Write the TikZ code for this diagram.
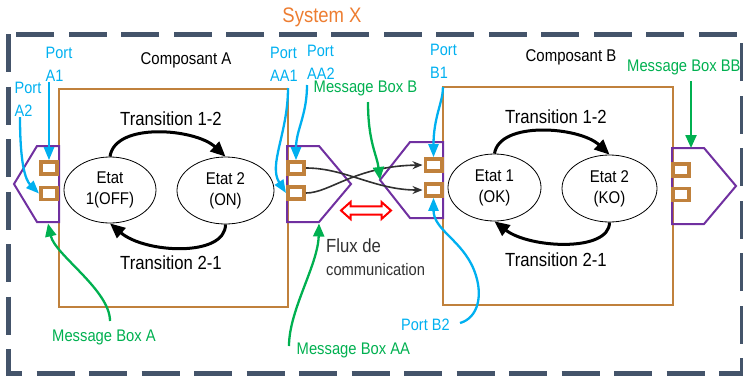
\documentclass[tikz,border=0pt]{standalone}
\usepackage{fontspec}
\setmainfont{Liberation Sans}[FakeStretch=0.88]
\usetikzlibrary{shapes.geometric,arrows.meta}
\definecolor{framec}{HTML}{44546A}
\definecolor{orangec}{HTML}{ED7D31}
\definecolor{brownc}{HTML}{C0813C}
\definecolor{purp}{HTML}{7030A0}
\definecolor{bluec}{HTML}{00B0F0}
\definecolor{greenc}{HTML}{00B050}
\definecolor{darkc}{HTML}{303030}
\begin{document}
\begin{tikzpicture}[x=1pt,y=-1pt,
  frame/.style={draw=framec, line width=5pt, dash pattern=on 38pt off 14.5pt},
  comp/.style={draw=brownc, line width=2pt, inner sep=0},
  clab/.style={font=\fontsize{17}{20}\selectfont, inner sep=0},
  hex/.style={draw=purp, line width=2pt, line join=miter},
  port/.style={draw=brownc, line width=3.6pt, fill=white, minimum width=16.4pt, minimum height=12pt, inner sep=0},
  state/.style={ellipse, draw=black, line width=0.8pt, align=center, font=\fontsize{17}{21}\selectfont, inner sep=0},
  trans/.style={line width=3pt, -{Triangle[length=15pt,width=13pt]}},
  tlab/.style={font=\fontsize{19}{22}\selectfont, inner sep=0},
  link/.style={draw=darkc, line width=1.6pt, shorten >=1pt, -{Stealth[length=10pt,width=8pt]}},
  blab/.style={text=bluec, font=\fontsize{16.5}{23}\selectfont, align=left, inner sep=0, anchor=west},
  glab/.style={text=greenc, font=\fontsize{16.8}{20}\selectfont, inner sep=0, anchor=west},
  barrow/.style={draw=bluec, line width=2.3pt, -{Triangle[length=13pt,width=10pt]}},
  garrow/.style={draw=greenc, line width=2.3pt, -{Triangle[length=13pt,width=11pt]}},
  flux/.style={text=darkc, inner sep=0, anchor=west}]
\useasboundingbox (0,0) rectangle (743,378);
\draw[frame] (8,34) rectangle (742,373);
\node[font=\fontsize{21}{24}\selectfont, text=orangec, inner sep=0] (title) at (322,17) {System X};

% components
\node[comp, minimum width=229pt, minimum height=218pt] (compA) at (173.5,198) {};
\node[comp, minimum width=230pt, minimum height=218pt] (compB) at (558,196) {};
\node[clab] (nameA) at (186,60) {Composant A};
\node[clab] (nameB) at (571,57) {Composant B};

% message boxes (purple)
\coordinate (hAb) at (48,223.5);
\coordinate (hAAc) at (319,223.5);
\coordinate (hBl) at (380,180);
\coordinate (hBBt) at (691,148);
\draw[hex] (59,146) -- (37,146) -- (14,184) -- (37,222) -- (59,222) -- cycle;
\draw[hex] (287,146) -- (319,146) -- (351,184) -- (319,222) -- (287,222) -- cycle;
\draw[hex] (443,142) -- (410,142) -- (hBl) -- (410,218) -- (443,218) -- cycle;
\draw[hex] (672,148) -- (704,148) -- (736,186) -- (704,224) -- (672,224) -- cycle;

% states
\node[state, minimum width=92pt, minimum height=66pt] (eA1) at (110,190) {Etat\\1(OFF)};
\node[state, minimum width=97pt, minimum height=67pt] (eA2) at (225.5,190.5) {Etat 2\\(ON)};
\node[state, minimum width=93pt, minimum height=67pt] (eB1) at (494.5,187.5) {Etat 1\\(OK)};
\node[state, minimum width=95pt, minimum height=67pt] (eB2) at (609.5,188.5) {Etat 2\\(KO)};

% transitions
\draw[trans] (eA1.north) .. controls +(5,-35) and +(-30,-28) .. (eA2.north);
\draw[trans] (eA2.south) .. controls +(0,33) and +(35,30) .. (eA1.south);
\draw[trans] (eB1.north) .. controls +(5,-33) and +(-30,-28) .. (eB2.north);
\draw[trans] (eB2.south) .. controls +(0,30) and +(35,27) .. (eB1.south);
\node[tlab] (tA12) at (171,119) {Transition 1-2};
\node[tlab] (tA21) at (171,262.5) {Transition 2-1};
\node[tlab] (tB12) at (556,117) {Transition 1-2};
\node[tlab] (tB21) at (556,259.5) {Transition 2-1};

% ports
\node[port] (pA1) at (49,168) {};
\node[port] (pA2) at (49,193.5) {};
\node[port] (pAA1) at (296,168) {};
\node[port] (pAA2) at (296,193) {};
\node[port] (pB1) at (433.5,165) {};
\node[port] (pB2) at (433.5,190) {};
\node[port] (pBB1) at (681,170) {};
\node[port] (pBB2) at (681,194.5) {};

% communication links
\draw[link] (pAA1.east) .. controls (345,168) and (375,190) .. (pB2.west);
\draw[link] (pAA2.east) .. controls (330,193) and (355,166) .. (pB1.west);

% flow double arrow
\draw[red, line width=2pt, line join=miter] (341,210.5) -- (350.5,202) -- (350.5,206.3) -- (381.5,206.3) -- (381.5,202) -- (391,210.5) -- (381.5,219) -- (381.5,214.7) -- (350.5,214.7) -- (350.5,219) -- cycle;
\node[flux, font=\fontsize{19}{22}\selectfont] (flux1) at (326,245.5) {Flux de};
\node[flux, font=\fontsize{16.7}{20}\selectfont] (flux2) at (326,269.5) {communication};

% blue labels
\node[blab] (lA1) at (45.5,64.5) {Port\\A1};
\node[blab] (lA2) at (14.5,99.5) {Port\\A2};
\node[blab] (lAA1) at (270,64.5) {Port\\AA1};
\node[blab] (lAA2) at (307,62) {Port\\AA2};
\node[blab] (lB1) at (430,61.5) {Port\\B1};
\node[blab] (lB2) at (401,325) {Port B2};

% green labels
\node[glab] (mB) at (313.5,88.5) {Message Box B};
\node[glab] (mBB) at (627,67) {Message Box BB};
\node[glab] (mA) at (52,337) {Message Box A};
\node[glab] (mAA) at (296.5,350) {Message Box AA};

% arrow starts
\coordinate (sA2) at (20,117);
\coordinate (sAA1) at (288,88);
\coordinate (sAA2) at (307,85);
\coordinate (sB1) at (443,87);
\coordinate (sB2) at (460,323);
\coordinate (sMB) at (368,102);
\coordinate (sMBB) at (691,81);
\coordinate (sMA) at (110,321);
\coordinate (sMAA) at (289,346);

% blue arrows
\draw[barrow] (lA1.south -| pA1.north) -- (pA1.north);
\draw[barrow] (sA2) .. controls +(0,45) and +(-14,-14) .. (pA2.west);
\draw[barrow] (sAA1) .. controls +(0,45) and +(-18,-28) .. (pAA2.west);
\draw[barrow] (sAA2) .. controls +(0,30) and +(0,-30) .. (pAA1.north);
\draw[barrow] (sB1) .. controls +(0,15) and +(0,-40) .. (pB1.north);
\draw[barrow] (sB2) .. controls (478,318) and (484,295) .. (474,270) .. controls (462,240) and (433.5,230) .. (pB2.south);

% green arrows
\draw[garrow] (sMB) .. controls +(0,40) and +(-3,-25) .. (hBl);
\draw[garrow] (sMBB) -- (hBBt);
\draw[garrow] (sMA) .. controls (110,290) and (55,255) .. (hAb);
\draw[garrow] (sMAA) .. controls (289,310) and (318,265) .. (hAAc);
\end{tikzpicture}
\end{document}
